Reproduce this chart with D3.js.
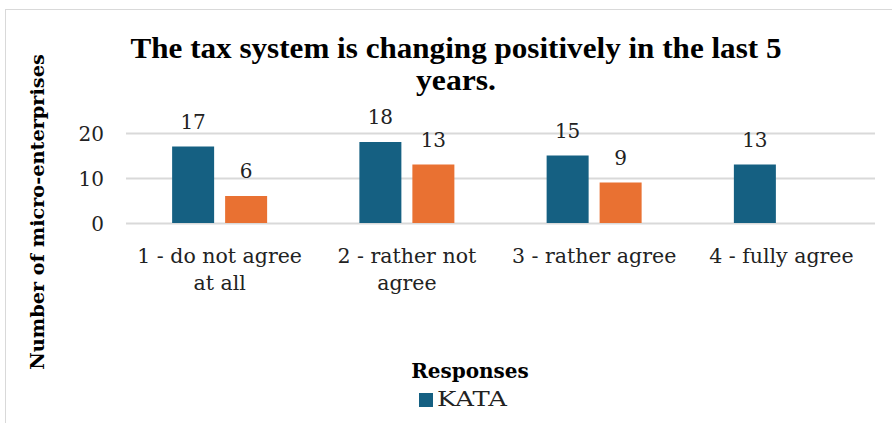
<!DOCTYPE html>
<html><head><meta charset="utf-8">
<script src="https://cdn.jsdelivr.net/npm/d3@7/dist/d3.min.js"></script>
<style>body{margin:0;background:#fff}svg{display:block}</style>
</head><body><svg id="c" width="892" height="423"></svg>
<script>
const categories = [["1 - do not agree", "at all"], ["2 - rather not", "agree"], ["3 - rather agree"], ["4 - fully agree"]];
const kataValues = [17, 18, 15, 13];
const otherValues = [6, 13, 9, null];
const yTicks = [0, 10, 20];
const seriesNames = ["KATA", "Other"];
const titleLines = ["The tax system is changing positively in the last 5", "years."];

(function () {
const FONT = "'DejaVu Serif', 'Liberation Serif', serif";
const TFONT = "'Liberation Serif', serif";
const svg = d3.select("#c");
svg.append("rect").attr("x", 5.5).attr("y", 9.5).attr("width", 900).attr("height", 430)
  .attr("fill", "#fff").attr("stroke", "#d9d9d9").attr("stroke-width", 1);

const pLeft = 126, pRight = 875, pTop = 133, pBottom = 223;
const x = d3.scaleBand().domain(d3.range(categories.length)).range([pLeft, pRight]);
const y = d3.scaleLinear().domain([0, 20]).range([pBottom, pTop]);

// gridlines
svg.append("g").selectAll("line").data(yTicks).join("line")
  .attr("x1", pLeft).attr("x2", pRight).attr("y1", d => y(d) + 0.5).attr("y2", d => y(d) + 0.5)
  .attr("stroke", "#d9d9d9").attr("stroke-width", 2);

// y axis labels
const yAxis = svg.append("g").attr("transform", `translate(${pLeft - 22},0)`)
  .call(d3.axisLeft(y).tickValues(yTicks).tickSize(0).tickPadding(0));
yAxis.select(".domain").remove();
yAxis.selectAll("text").attr("font-family", FONT).attr("font-size", 20).attr("fill", "#222").attr("dy", "0.37em");

const series = [kataValues, otherValues];
const colors = ["#156082", "#e97132"];
const bw = 42, gap = 11;
series.forEach((vals, si) => {
  const g = svg.append("g");
  const data = vals.map((v, i) => ({v, i})).filter(d => d.v !== null);
  const bx = d => x(d.i) + x.bandwidth() / 2 - bw - gap / 2 + si * (bw + gap);
  g.selectAll("rect").data(data).join("rect")
    .attr("x", bx).attr("width", bw)
    .attr("y", d => y(d.v)).attr("height", d => y(0) - y(d.v))
    .attr("fill", colors[si]);
  g.selectAll("text").data(data).join("text")
    .attr("x", d => bx(d) + bw / 2).attr("y", d => y(d.v) - 18)
    .attr("text-anchor", "middle").attr("font-family", FONT).attr("font-size", 20).attr("fill", "#222")
    .text(d => d.v);
});

// category labels
const cg = svg.append("g");
categories.forEach((lines, i) => {
  const t = cg.append("text").attr("text-anchor", "middle").attr("font-family", FONT)
    .attr("font-size", 20.5).attr("fill", "#222");
  lines.forEach((l, j) => t.append("tspan").attr("x", x(i) + x.bandwidth() / 2).attr("y", 263 + j * 27).text(l));
});

// title
titleLines.forEach((l, j) => {
  const t = svg.append("text").attr("x", 456).attr("y", 58 + j * 32).attr("text-anchor", "middle")
    .attr("font-family", TFONT).attr("font-weight", "bold").attr("font-size", 29).attr("fill", "#000").text(l);
  if (j === 0) t.attr("textLength", 651).attr("lengthAdjust", "spacingAndGlyphs");
  else t.attr("textLength", 80).attr("lengthAdjust", "spacingAndGlyphs");
});

// y title
svg.append("text").attr("transform", "translate(44,212) rotate(-90)").attr("text-anchor", "middle")
  .attr("font-family", FONT).attr("font-weight", "bold").attr("font-size", 19.3).attr("fill", "#000")
  .text("Number of micro-enterprises");

// x title
svg.append("text").attr("x", 470).attr("y", 378).attr("text-anchor", "middle")
  .attr("font-family", FONT).attr("font-weight", "bold").attr("font-size", 20).attr("fill", "#000").text("Responses");

// legend (only first entry visible)
svg.append("rect").attr("x", 419).attr("y", 393).attr("width", 14).attr("height", 14).attr("fill", colors[0]);
svg.append("text").attr("x", 437).attr("y", 406).attr("font-family", FONT).attr("font-size", 20).attr("fill", "#222")
  .attr("textLength", 70).attr("lengthAdjust", "spacingAndGlyphs").text(seriesNames[0]);
})();
</script></body></html>
